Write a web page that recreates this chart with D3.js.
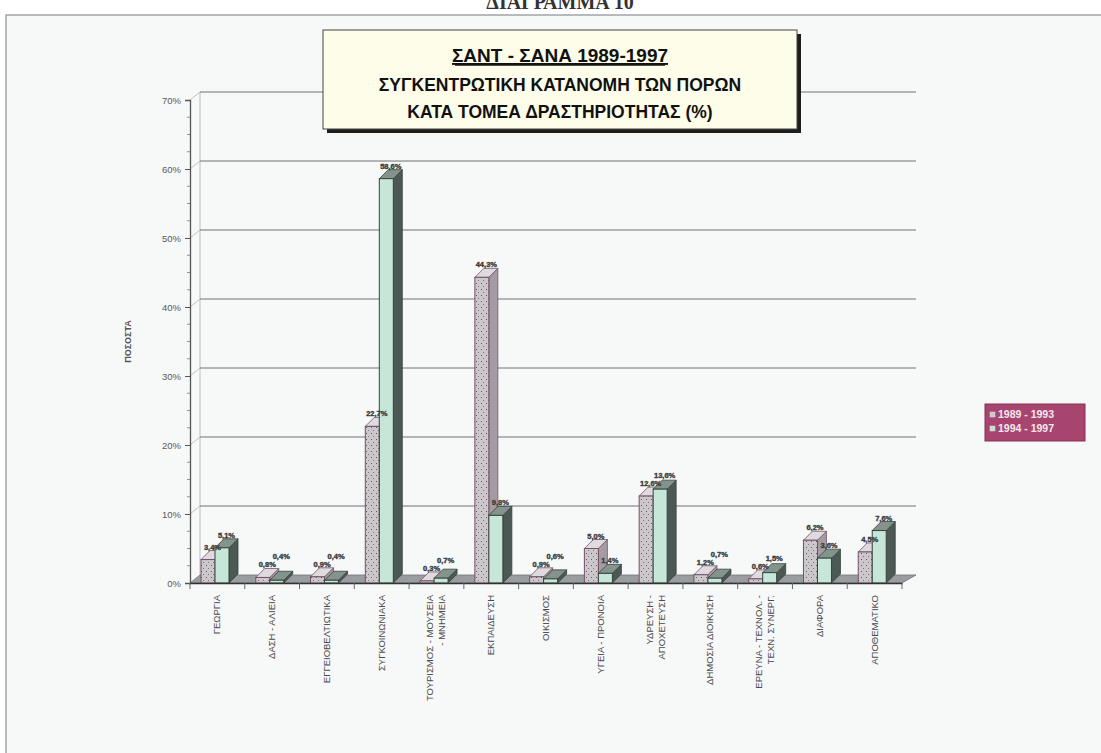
<!DOCTYPE html>
<html>
<head>
<meta charset="utf-8">
<script src="https://cdn.jsdelivr.net/npm/d3@7/dist/d3.min.js"></script>
<style>
  html, body { margin: 0; padding: 0; background: #ffffff; }
  svg { display: block; }
</style>
</head>
<body>
<svg id="chart" width="1101" height="753"></svg>
<script>
// Sectors of activity (x-axis categories); "\n" splits a label into two lines
const categories = [
  "ΓΕΩΡΓΙΑ",
  "ΔΑΣΗ - ΑΛΙΕΙΑ",
  "ΕΓΓΕΙΟΒΕΛΤΙΩΤΙΚΑ",
  "ΣΥΓΚΟΙΝΩΝΙΑΚΑ",
  "ΤΟΥΡΙΣΜΟΣ - ΜΟΥΣΕΙΑ\n- ΜΝΗΜΕΙΑ",
  "ΕΚΠΑΙΔΕΥΣΗ",
  "ΟΙΚΙΣΜΟΣ",
  "ΥΓΕΙΑ - ΠΡΟΝΟΙΑ",
  "ΥΔΡΕΥΣΗ -\nΑΠΟΧΕΤΕΥΣΗ",
  "ΔΗΜΟΣΙΑ ΔΙΟΙΚΗΣΗ",
  "ΕΡΕΥΝΑ - ΤΕΧΝΟΛ. -\nΤΕΧΝ. ΣΥΝΕΡΓ.",
  "ΔΙΑΦΟΡΑ",
  "ΑΠΟΘΕΜΑΤΙΚΟ"
];

// Share of resources per sector (%)
const seriesNames = ["1989 - 1993", "1994 - 1997"];
const values8993 = [3.4, 0.8, 0.9, 22.7, 0.3, 44.3, 0.9, 5.0, 12.6, 1.2, 0.6, 6.2, 4.5];
const values9497 = [5.1, 0.4, 0.4, 58.6, 0.7, 9.8, 0.6, 1.4, 13.6, 0.7, 1.5, 3.6, 7.6];

const yTicks = [0, 10, 20, 30, 40, 50, 60, 70];
const yTickLabels = ["0%", "10%", "20%", "30%", "40%", "50%", "60%", "70%"];

const titleLines = ["ΣΑΝΤ - ΣΑΝΑ 1989-1997", "ΣΥΓΚΕΝΤΡΩΤΙΚΗ ΚΑΤΑΝΟΜΗ ΤΩΝ ΠΟΡΩΝ", "ΚΑΤΑ ΤΟΜΕΑ ΔΡΑΣΤΗΡΙΟΤΗΤΑΣ (%)"];
const pageHeading = "ΔΙΑΓΡΑΜΜΑ 10";
const yAxisTitle = "ΠΟΣΟΣΤΑ";

const svg = d3.select("#chart");
const sans = "Liberation Sans, Arial, sans-serif";

// pattern: dotted grey front face for the first period
const defs = svg.append("defs");
const pat = defs.append("pattern").attr("id", "dots").attr("patternUnits", "userSpaceOnUse")
  .attr("width", 5).attr("height", 6);
pat.append("rect").attr("width", 5).attr("height", 6).attr("fill", "#cbc7cb");
pat.append("rect").attr("x", 1).attr("y", 1).attr("width", 1).attr("height", 1).attr("fill", "#5e5a5d");
pat.append("rect").attr("x", 3).attr("y", 4).attr("width", 1).attr("height", 1).attr("fill", "#7d787b");

// page frame
svg.append("rect").attr("x", 0).attr("y", 0).attr("width", 1101).attr("height", 753).attr("fill", "#ffffff");
svg.append("rect").attr("x", 6).attr("y", 15).attr("width", 1100).attr("height", 745)
  .attr("fill", "#f7f8f8").attr("stroke", "#8a8f95").attr("stroke-width", 1.2);

svg.append("text").attr("x", 560).attr("y", 9).attr("text-anchor", "middle")
  .attr("font-family", "Liberation Serif, serif").attr("font-weight", "bold").attr("font-size", 20)
  .attr("fill", "#333").text(pageHeading);

// scales
const x = d3.scaleBand().domain(categories).range([190, 902]).paddingInner(0).paddingOuter(0);
const y = d3.scaleLinear().domain([0, 70]).range([583, 100]);

// 3-D depth of the plot box and of each column
const wallDx = 10, wallDy = 8;
const colDx = 9, colDy = 9;
const frontW = 14, groupOffset = 11;

// back wall + floor
const wall = svg.append("g");
wall.append("line").attr("x1", 190 + wallDx).attr("x2", 190 + wallDx)
  .attr("y1", y(70) - wallDy).attr("y2", y(0) - wallDy).attr("stroke", "#b9bcbf").attr("stroke-width", 1);
wall.append("path")
  .attr("d", `M190,${y(0)} L${190 + wallDx},${y(0) - wallDy} L${916},${y(0) - wallDy} L${902},${y(0)} Z`)
  .attr("fill", "#9a9da0").attr("stroke", "#6e7276").attr("stroke-width", 0.8);

// gridlines drawn on the back wall
wall.selectAll("line.grid").data(yTicks.filter(d => d > 0)).join("line")
  .attr("class", "grid")
  .attr("x1", 190 + wallDx).attr("x2", 916)
  .attr("y1", d => y(d) - wallDy).attr("y2", d => y(d) - wallDy)
  .attr("stroke", "#6f7376").attr("stroke-width", 1);
wall.selectAll("line.gridc").data(yTicks.filter(d => d > 0)).join("line")
  .attr("class", "gridc")
  .attr("x1", 190).attr("x2", 190 + wallDx)
  .attr("y1", d => y(d)).attr("y2", d => y(d) - wallDy)
  .attr("stroke", "#b0b3b6").attr("stroke-width", 0.8);

// y axis
const yAxis = d3.axisLeft(y).tickValues(yTicks).tickFormat((d, i) => yTickLabels[i]).tickSize(5).tickPadding(4);
const gy = svg.append("g").attr("transform", "translate(190,0)").call(yAxis);
gy.select(".domain").attr("stroke", "#555").attr("stroke-width", 1.3);
gy.selectAll(".tick line").attr("stroke", "#555");
gy.selectAll(".tick text").attr("font-family", sans)
  .attr("font-size", 9.5).attr("fill", "#5a5a5a");
// minor ticks
svg.append("g").selectAll("line").data(d3.range(0, 70, 2.5).filter(d => d % 10 !== 0)).join("line")
  .attr("x1", 187).attr("x2", 190).attr("y1", d => y(d)).attr("y2", d => y(d))
  .attr("stroke", "#777").attr("stroke-width", 0.8);

svg.append("text").attr("transform", `translate(131,${y(35)}) rotate(-90)`)
  .attr("text-anchor", "middle").attr("font-family", sans)
  .attr("font-size", 9).attr("font-weight", "bold").attr("fill", "#555").text(yAxisTitle);

// bars
const colors = [
  { front: "url(#dots)", side: "#a49ca2", top: "#dedade", stroke: "#75506b" },
  { front: "#c6e7d7", side: "#4b5853", top: "#84948c", stroke: "#36423d" }
];
const seriesValues = [values8993, values9497];
const fmt = v => d3.format(".1f")(v).replace(".", ",") + "%";

const bars = svg.append("g");
categories.forEach((c, ci) => {
  seriesValues.forEach((vals, si) => {
    const v = vals[ci];
    const x0 = x(c) + groupOffset + si * frontW;
    const yt = y(v), yb = y(0);
    const col = colors[si];
    const g = bars.append("g");
    // side face
    g.append("path")
      .attr("d", `M${x0 + frontW},${yt} L${x0 + frontW + colDx},${yt - colDy} L${x0 + frontW + colDx},${yb - colDy} L${x0 + frontW},${yb} Z`)
      .attr("fill", col.side).attr("stroke", col.stroke).attr("stroke-width", 0.8);
    // top face
    g.append("path")
      .attr("d", `M${x0},${yt} L${x0 + colDx},${yt - colDy} L${x0 + frontW + colDx},${yt - colDy} L${x0 + frontW},${yt} Z`)
      .attr("fill", col.top).attr("stroke", col.stroke).attr("stroke-width", 0.8);
    // front face
    g.append("rect").attr("x", x0).attr("y", yt).attr("width", frontW).attr("height", yb - yt)
      .attr("fill", col.front).attr("stroke", col.stroke).attr("stroke-width", 1);
  });
});

// value labels; when the two labels of a sector would collide, the second is lifted
const labels = svg.append("g");
categories.forEach((c, ci) => {
  let prevY = null;
  seriesValues.forEach((vals, si) => {
    const v = vals[ci];
    const x0 = x(c) + groupOffset + si * frontW;
    let ly = y(v) - colDy - 1;
    if (prevY !== null && Math.abs(ly - prevY) < 8) ly = prevY - 8;
    prevY = ly;
    labels.append("text")
      .attr("x", x0 + (frontW + colDx) / 2).attr("y", ly)
      .attr("text-anchor", "middle").attr("font-family", sans)
      .attr("font-size", 7.5).attr("font-weight", "bold").attr("fill", "#1f2522")
      .attr("stroke", "#4a4f4d").attr("stroke-width", 0.4)
      .text(fmt(v));
  });
});

// x axis
const xAxis = d3.axisBottom(x).tickSize(0).tickFormat("");
const gx = svg.append("g").attr("transform", `translate(0,${y(0)})`).call(xAxis);
gx.select(".domain").attr("stroke", "#333").attr("stroke-width", 1.5);
svg.append("g").selectAll("line").data(categories.map(c => x(c)).concat([902])).join("line")
  .attr("x1", d => d).attr("x2", d => d).attr("y1", y(0)).attr("y2", y(0) + 6)
  .attr("stroke", "#666").attr("stroke-width", 1);

// rotated category labels
const xl = svg.append("g");
categories.forEach(c => {
  const lines = c.split("\n");
  const cx = x(c) + x.bandwidth() / 2;
  const t = xl.append("text")
    .attr("transform", `translate(${cx},${y(0) + 12}) rotate(-90)`)
    .attr("text-anchor", "end")
    .attr("font-family", sans)
    .attr("font-size", 9.5).attr("fill", "#4a4a4a");
  lines.forEach((ln, i) => {
    t.append("tspan").attr("x", 0)
      .attr("y", (i - (lines.length - 1) / 2) * 12 + 3)
      .text(ln);
  });
});

// title box with drop shadow
const tb = svg.append("g");
tb.append("rect").attr("x", 327).attr("y", 34).attr("width", 474).attr("height", 99).attr("fill", "#1e1e1e");
tb.append("rect").attr("x", 323).attr("y", 30).attr("width", 474).attr("height", 99)
  .attr("fill", "#fdfde9").attr("stroke", "#444").attr("stroke-width", 1);
const tx = 560;
tb.append("text").attr("x", tx).attr("y", 62).attr("text-anchor", "middle")
  .attr("font-family", sans).attr("font-weight", "bold")
  .attr("font-size", 19).attr("fill", "#111").attr("text-decoration", "underline").text(titleLines[0]);
tb.append("line").attr("x1", 455).attr("x2", 665).attr("y1", 65).attr("y2", 65).attr("stroke", "#111").attr("stroke-width", 1.5);
tb.append("text").attr("x", tx).attr("y", 91).attr("text-anchor", "middle")
  .attr("font-family", sans).attr("font-weight", "bold")
  .attr("font-size", 17.5).attr("fill", "#111").text(titleLines[1]);
tb.append("text").attr("x", tx).attr("y", 118).attr("text-anchor", "middle")
  .attr("font-family", sans).attr("font-weight", "bold")
  .attr("font-size", 17.5).attr("fill", "#111").text(titleLines[2]);

// legend
const lg = svg.append("g").attr("transform", "translate(985,404)");
lg.append("rect").attr("width", 100).attr("height", 37).attr("fill", "#a8456f").attr("stroke", "#8a2f58");
const swatch = ["#cbc7cb", "#bfe3d0"];
seriesNames.forEach((n, i) => {
  lg.append("rect").attr("x", 5).attr("y", 8 + i * 14).attr("width", 5).attr("height", 5)
    .attr("fill", swatch[i]).attr("stroke", "#ddd").attr("stroke-width", 0.5);
  lg.append("text").attr("x", 13).attr("y", 14 + i * 14)
    .attr("font-family", sans).attr("font-size", 10.5).attr("font-weight", "bold")
    .attr("fill", "#f4e8ee").text(n);
});
</script>
</body>
</html>
